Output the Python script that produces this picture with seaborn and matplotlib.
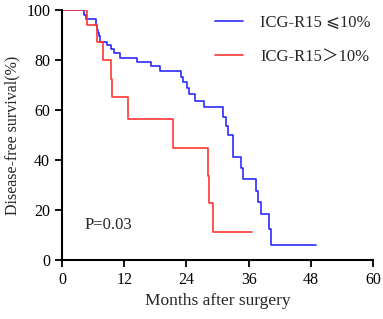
import pandas as pd
import numpy as np
import matplotlib
matplotlib.use('Agg')
import matplotlib.pyplot as plt
import seaborn as sns

sns.set_style('ticks')
plt.rcParams['font.family'] = ['Liberation Serif', 'DejaVu Sans', 'Noto Sans CJK SC']

# Kaplan-Meier step points (months, survival %)
low_months = [0, 4.3, 4.6, 6.5, 6.8, 7.0, 7.2, 7.4, 8.6, 9.5, 10.1, 11.2, 14.5, 17.1,
              18.9, 23.0, 23.4, 24.2, 24.5, 25.6, 27.4, 31.1, 31.6, 32.1, 32.9, 34.5,
              34.9, 37.5, 37.8, 38.3, 40.0, 40.4, 49.0]
low_surv = [100, 98, 96.4, 94, 92, 90.7, 89.6, 87.1, 86, 84.3, 82.7, 80.9, 79.3, 77.6,
            75.7, 73.3, 71.3, 68.7, 66.3, 63.7, 61.1, 57.3, 53.7, 50, 41.3, 36.7,
            32.3, 27.6, 23.1, 18.4, 12.3, 6, 6]

high_months = [0, 4.8, 6.8, 7.9, 9.5, 9.7, 12.7, 21.5, 28.1, 28.3, 29.2, 36.6]
high_surv = [100, 94, 87.1, 80, 72.4, 65.3, 56.3, 44.9, 33.6, 22.7, 11.3, 11.3]

groups = ['ICG-R15 \u2a7d10%', 'ICG-R15\uff1e10%']
palette = {groups[0]: '#2b2bff', groups[1]: '#ff3535'}

df = pd.concat([
    pd.DataFrame({'month': low_months, 'surv': low_surv, 'group': groups[0]}),
    pd.DataFrame({'month': high_months, 'surv': high_surv, 'group': groups[1]}),
])

fig = plt.figure(figsize=(3.83, 3.19), dpi=100)
ax = fig.add_axes([0.162, 0.185, 0.812, 0.784])

sns.lineplot(data=df, x='month', y='surv', hue='group', palette=palette,
             drawstyle='steps-post', linewidth=1.2, estimator=None, sort=False, ax=ax)

ax.set_xlim(0, 60)
ax.set_ylim(0, 100)
ax.set_xticks(range(0, 61, 12))
ax.set_yticks(range(0, 101, 20))
ax.tick_params(axis='both', direction='out', length=5, width=1.3, labelsize=11.5, colors='black')
for side in ['left', 'bottom']:
    ax.spines[side].set_linewidth(1.5)
    ax.spines[side].set_color('black')
sns.despine(ax=ax)

ax.set_xlabel('Months after surgery', fontsize=12.5)
ax.set_ylabel('Disease-free survival(%)', fontsize=11.5)

ax.text(4.4, 14, 'P=0.03', fontsize=12, va='center')

ax.legend(loc='upper right', bbox_to_anchor=(1.04, 1.04), frameon=False, fontsize=12,
          handlelength=1.7, handletextpad=1.0, labelspacing=1.1, title=None)

fig.savefig('out.png', dpi=100)
